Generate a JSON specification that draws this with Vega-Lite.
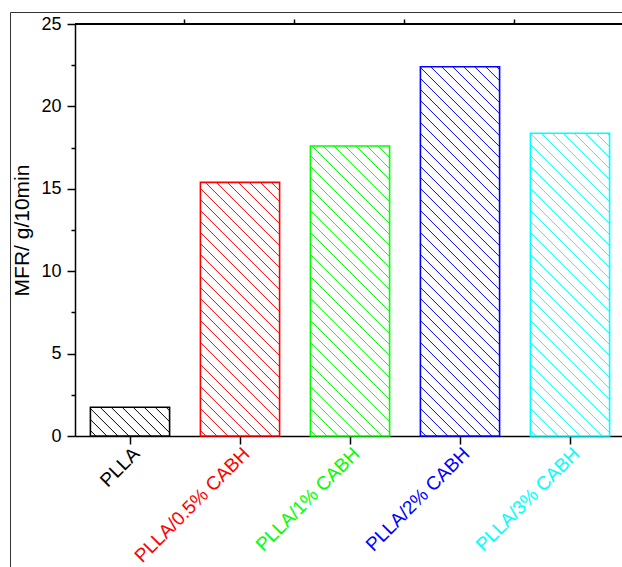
{
  "$schema": "https://vega.github.io/schema/vega-lite/v6.json",
  "width": 550,
  "height": 412,
  "autosize": {"type": "none"},
  "padding": {"left": 75, "top": 24, "right": -3, "bottom": 131},
  "background": "white",
  "config": {"view": {"stroke": null}, "font": "Liberation Sans"},
  "data": {"values": [
    {"sample": "PLLA", "mfr": 1.74},
    {"sample": "PLLA/0.5% CABH", "mfr": 15.39},
    {"sample": "PLLA/1% CABH", "mfr": 17.6},
    {"sample": "PLLA/2% CABH", "mfr": 22.41},
    {"sample": "PLLA/3% CABH", "mfr": 18.37}
  ]},
  "layer": [
    {
      "mark": {"type": "bar", "strokeWidth": 1.6},
      "encoding": {
        "x": {"field": "sample", "type": "nominal", "sort": null,
          "scale": {"paddingInner": 0.28, "paddingOuter": 0.14},
          "axis": {"title": null, "labelAngle": -45, "labelAlign": "right", "labelBaseline": "top",
            "labelFontSize": 19, "labelPadding": 0, "labelLimit": 400, "labelOverlap": false,
            "labelColor": {"expr": "datum.value === 'PLLA' ? '#000000' : datum.value === 'PLLA/0.5% CABH' ? '#ff0000' : datum.value === 'PLLA/1% CABH' ? '#00ff00' : datum.value === 'PLLA/2% CABH' ? '#0000ff' : '#00ffff'"},
            "tickSize": 8, "tickWidth": 1.5, "tickColor": "black", "domainColor": "black", "domainWidth": 1.5}},
        "y": {"field": "mfr", "type": "quantitative",
          "scale": {"domain": [0, 25], "nice": false, "zero": true},
          "axis": {"title": "MFR/ g/10min", "titleFontSize": 21, "titleFontWeight": "normal", "titleColor": "black", "titlePadding": 8,
            "values": [0, 2.5, 5, 7.5, 10, 12.5, 15, 17.5, 20, 22.5, 25],
            "labelExpr": "datum.value % 5 === 0 ? datum.label : ''",
            "tickSize": {"condition": {"test": "datum.value % 5 === 0", "value": 8}, "value": 4},
            "labelFontSize": 18, "labelColor": "black", "labelPadding": 6,
            "tickColor": "black", "tickWidth": 1.5, "domainColor": "black", "domainWidth": 1.5, "grid": false}},
        "stroke": {"field": "sample", "type": "nominal", "sort": null,
          "scale": {"domain": ["PLLA", "PLLA/0.5% CABH", "PLLA/1% CABH", "PLLA/2% CABH", "PLLA/3% CABH"],
                    "range": ["#000000", "#ff0000", "#00ff00", "#0000ff", "#00ffff"]},
          "legend": {"orient": "none", "legendX": -65, "legendY": -12, "padding": 320, "strokeColor": "#333333",
            "title": null, "labelExpr": "''", "symbolOpacity": 0, "symbolSize": 1, "symbolStrokeWidth": 0, "rowPadding": 0, "labelFontSize": 1}},
        "fill": {
          "condition": [
            {"test": "datum.sample === 'PLLA'", "value": {"gradient": "linear", "x1": 0, "y1": 1, "x2": 6.138, "y2": -1.2245, "stops": [
              {"offset":0.0082,"color":"#fff"},{"offset":0.01,"color":"#000"},{"offset":0.0118,"color":"#fff"},
              {"offset":0.0282,"color":"#fff"},{"offset":0.03,"color":"#000"},{"offset":0.0318,"color":"#fff"},
              {"offset":0.0482,"color":"#fff"},{"offset":0.05,"color":"#000"},{"offset":0.0518,"color":"#fff"},
              {"offset":0.0682,"color":"#fff"},{"offset":0.07,"color":"#000"},{"offset":0.0718,"color":"#fff"},
              {"offset":0.0882,"color":"#fff"},{"offset":0.09,"color":"#000"},{"offset":0.0918,"color":"#fff"},
              {"offset":0.1082,"color":"#fff"},{"offset":0.11,"color":"#000"},{"offset":0.1118,"color":"#fff"},
              {"offset":0.1282,"color":"#fff"},{"offset":0.13,"color":"#000"},{"offset":0.1318,"color":"#fff"},
              {"offset":0.1482,"color":"#fff"},{"offset":0.15,"color":"#000"},{"offset":0.1518,"color":"#fff"},
              {"offset":0.1682,"color":"#fff"},{"offset":0.17,"color":"#000"},{"offset":0.1718,"color":"#fff"},
              {"offset":0.1882,"color":"#fff"},{"offset":0.19,"color":"#000"},{"offset":0.1918,"color":"#fff"}
            ]}},
            {"test": "datum.sample === 'PLLA/0.5% CABH'", "value": {"gradient": "linear", "x1": 0, "y1": 1, "x2": 0.6171, "y2": -0.976, "stops": [
              {"offset":0.0082,"color":"#fff"},{"offset":0.01,"color":"#f00"},{"offset":0.0118,"color":"#fff"},
              {"offset":0.0282,"color":"#fff"},{"offset":0.03,"color":"#f00"},{"offset":0.0318,"color":"#fff"},
              {"offset":0.0482,"color":"#fff"},{"offset":0.05,"color":"#f00"},{"offset":0.0518,"color":"#fff"},
              {"offset":0.0682,"color":"#fff"},{"offset":0.07,"color":"#f00"},{"offset":0.0718,"color":"#fff"},
              {"offset":0.0882,"color":"#fff"},{"offset":0.09,"color":"#f00"},{"offset":0.0918,"color":"#fff"},
              {"offset":0.1082,"color":"#fff"},{"offset":0.11,"color":"#f00"},{"offset":0.1118,"color":"#fff"},
              {"offset":0.1282,"color":"#fff"},{"offset":0.13,"color":"#f00"},{"offset":0.1318,"color":"#fff"},
              {"offset":0.1482,"color":"#fff"},{"offset":0.15,"color":"#f00"},{"offset":0.1518,"color":"#fff"},
              {"offset":0.1682,"color":"#fff"},{"offset":0.17,"color":"#f00"},{"offset":0.1718,"color":"#fff"},
              {"offset":0.1882,"color":"#fff"},{"offset":0.19,"color":"#f00"},{"offset":0.1918,"color":"#fff"},
              {"offset":0.2082,"color":"#fff"},{"offset":0.21,"color":"#f00"},{"offset":0.2118,"color":"#fff"},
              {"offset":0.2282,"color":"#fff"},{"offset":0.23,"color":"#f00"},{"offset":0.2318,"color":"#fff"},
              {"offset":0.2482,"color":"#fff"},{"offset":0.25,"color":"#f00"},{"offset":0.2518,"color":"#fff"},
              {"offset":0.2682,"color":"#fff"},{"offset":0.27,"color":"#f00"},{"offset":0.2718,"color":"#fff"},
              {"offset":0.2882,"color":"#fff"},{"offset":0.29,"color":"#f00"},{"offset":0.2918,"color":"#fff"},
              {"offset":0.3082,"color":"#fff"},{"offset":0.31,"color":"#f00"},{"offset":0.3118,"color":"#fff"},
              {"offset":0.3282,"color":"#fff"},{"offset":0.33,"color":"#f00"},{"offset":0.3318,"color":"#fff"},
              {"offset":0.3482,"color":"#fff"},{"offset":0.35,"color":"#f00"},{"offset":0.3518,"color":"#fff"},
              {"offset":0.3682,"color":"#fff"},{"offset":0.37,"color":"#f00"},{"offset":0.3718,"color":"#fff"},
              {"offset":0.3882,"color":"#fff"},{"offset":0.39,"color":"#f00"},{"offset":0.3918,"color":"#fff"},
              {"offset":0.4082,"color":"#fff"},{"offset":0.41,"color":"#f00"},{"offset":0.4118,"color":"#fff"},
              {"offset":0.4282,"color":"#fff"},{"offset":0.43,"color":"#f00"},{"offset":0.4318,"color":"#fff"},
              {"offset":0.4482,"color":"#fff"},{"offset":0.45,"color":"#f00"},{"offset":0.4518,"color":"#fff"},
              {"offset":0.4682,"color":"#fff"},{"offset":0.47,"color":"#f00"},{"offset":0.4718,"color":"#fff"},
              {"offset":0.4882,"color":"#fff"},{"offset":0.49,"color":"#f00"},{"offset":0.4918,"color":"#fff"},
              {"offset":0.5082,"color":"#fff"},{"offset":0.51,"color":"#f00"},{"offset":0.5118,"color":"#fff"},
              {"offset":0.5282,"color":"#fff"},{"offset":0.53,"color":"#f00"},{"offset":0.5318,"color":"#fff"},
              {"offset":0.5482,"color":"#fff"},{"offset":0.55,"color":"#f00"},{"offset":0.5518,"color":"#fff"},
              {"offset":0.5682,"color":"#fff"},{"offset":0.57,"color":"#f00"},{"offset":0.5718,"color":"#fff"},
              {"offset":0.5882,"color":"#fff"},{"offset":0.59,"color":"#f00"},{"offset":0.5918,"color":"#fff"},
              {"offset":0.6082,"color":"#fff"},{"offset":0.61,"color":"#f00"},{"offset":0.6118,"color":"#fff"}
            ]}},
            {"test": "datum.sample === 'PLLA/1% CABH'", "value": {"gradient": "linear", "x1": 0, "y1": 1, "x2": 0.482, "y2": -0.7649, "stops": [
              {"offset":0.0082,"color":"#fff"},{"offset":0.01,"color":"#0f0"},{"offset":0.0118,"color":"#fff"},
              {"offset":0.0282,"color":"#fff"},{"offset":0.03,"color":"#0f0"},{"offset":0.0318,"color":"#fff"},
              {"offset":0.0482,"color":"#fff"},{"offset":0.05,"color":"#0f0"},{"offset":0.0518,"color":"#fff"},
              {"offset":0.0682,"color":"#fff"},{"offset":0.07,"color":"#0f0"},{"offset":0.0718,"color":"#fff"},
              {"offset":0.0882,"color":"#fff"},{"offset":0.09,"color":"#0f0"},{"offset":0.0918,"color":"#fff"},
              {"offset":0.1082,"color":"#fff"},{"offset":0.11,"color":"#0f0"},{"offset":0.1118,"color":"#fff"},
              {"offset":0.1282,"color":"#fff"},{"offset":0.13,"color":"#0f0"},{"offset":0.1318,"color":"#fff"},
              {"offset":0.1482,"color":"#fff"},{"offset":0.15,"color":"#0f0"},{"offset":0.1518,"color":"#fff"},
              {"offset":0.1682,"color":"#fff"},{"offset":0.17,"color":"#0f0"},{"offset":0.1718,"color":"#fff"},
              {"offset":0.1882,"color":"#fff"},{"offset":0.19,"color":"#0f0"},{"offset":0.1918,"color":"#fff"},
              {"offset":0.2082,"color":"#fff"},{"offset":0.21,"color":"#0f0"},{"offset":0.2118,"color":"#fff"},
              {"offset":0.2282,"color":"#fff"},{"offset":0.23,"color":"#0f0"},{"offset":0.2318,"color":"#fff"},
              {"offset":0.2482,"color":"#fff"},{"offset":0.25,"color":"#0f0"},{"offset":0.2518,"color":"#fff"},
              {"offset":0.2682,"color":"#fff"},{"offset":0.27,"color":"#0f0"},{"offset":0.2718,"color":"#fff"},
              {"offset":0.2882,"color":"#fff"},{"offset":0.29,"color":"#0f0"},{"offset":0.2918,"color":"#fff"},
              {"offset":0.3082,"color":"#fff"},{"offset":0.31,"color":"#0f0"},{"offset":0.3118,"color":"#fff"},
              {"offset":0.3282,"color":"#fff"},{"offset":0.33,"color":"#0f0"},{"offset":0.3318,"color":"#fff"},
              {"offset":0.3482,"color":"#fff"},{"offset":0.35,"color":"#0f0"},{"offset":0.3518,"color":"#fff"},
              {"offset":0.3682,"color":"#fff"},{"offset":0.37,"color":"#0f0"},{"offset":0.3718,"color":"#fff"},
              {"offset":0.3882,"color":"#fff"},{"offset":0.39,"color":"#0f0"},{"offset":0.3918,"color":"#fff"},
              {"offset":0.4082,"color":"#fff"},{"offset":0.41,"color":"#0f0"},{"offset":0.4118,"color":"#fff"},
              {"offset":0.4282,"color":"#fff"},{"offset":0.43,"color":"#0f0"},{"offset":0.4318,"color":"#fff"},
              {"offset":0.4482,"color":"#fff"},{"offset":0.45,"color":"#0f0"},{"offset":0.4518,"color":"#fff"},
              {"offset":0.4682,"color":"#fff"},{"offset":0.47,"color":"#0f0"},{"offset":0.4718,"color":"#fff"},
              {"offset":0.4882,"color":"#fff"},{"offset":0.49,"color":"#0f0"},{"offset":0.4918,"color":"#fff"},
              {"offset":0.5082,"color":"#fff"},{"offset":0.51,"color":"#0f0"},{"offset":0.5118,"color":"#fff"},
              {"offset":0.5282,"color":"#fff"},{"offset":0.53,"color":"#0f0"},{"offset":0.5318,"color":"#fff"},
              {"offset":0.5482,"color":"#fff"},{"offset":0.55,"color":"#0f0"},{"offset":0.5518,"color":"#fff"},
              {"offset":0.5682,"color":"#fff"},{"offset":0.57,"color":"#0f0"},{"offset":0.5718,"color":"#fff"},
              {"offset":0.5882,"color":"#fff"},{"offset":0.59,"color":"#0f0"},{"offset":0.5918,"color":"#fff"},
              {"offset":0.6082,"color":"#fff"},{"offset":0.61,"color":"#0f0"},{"offset":0.6118,"color":"#fff"},
              {"offset":0.6282,"color":"#fff"},{"offset":0.63,"color":"#0f0"},{"offset":0.6318,"color":"#fff"},
              {"offset":0.6482,"color":"#fff"},{"offset":0.65,"color":"#0f0"},{"offset":0.6518,"color":"#fff"},
              {"offset":0.6682,"color":"#fff"},{"offset":0.67,"color":"#0f0"},{"offset":0.6718,"color":"#fff"}
            ]}},
            {"test": "datum.sample === 'PLLA/2% CABH'", "value": {"gradient": "linear", "x1": 0, "y1": 1, "x2": 0.3054, "y2": -0.4238, "stops": [
              {"offset":0.0082,"color":"#fff"},{"offset":0.01,"color":"#00f"},{"offset":0.0118,"color":"#fff"},
              {"offset":0.0282,"color":"#fff"},{"offset":0.03,"color":"#00f"},{"offset":0.0318,"color":"#fff"},
              {"offset":0.0482,"color":"#fff"},{"offset":0.05,"color":"#00f"},{"offset":0.0518,"color":"#fff"},
              {"offset":0.0682,"color":"#fff"},{"offset":0.07,"color":"#00f"},{"offset":0.0718,"color":"#fff"},
              {"offset":0.0882,"color":"#fff"},{"offset":0.09,"color":"#00f"},{"offset":0.0918,"color":"#fff"},
              {"offset":0.1082,"color":"#fff"},{"offset":0.11,"color":"#00f"},{"offset":0.1118,"color":"#fff"},
              {"offset":0.1282,"color":"#fff"},{"offset":0.13,"color":"#00f"},{"offset":0.1318,"color":"#fff"},
              {"offset":0.1482,"color":"#fff"},{"offset":0.15,"color":"#00f"},{"offset":0.1518,"color":"#fff"},
              {"offset":0.1682,"color":"#fff"},{"offset":0.17,"color":"#00f"},{"offset":0.1718,"color":"#fff"},
              {"offset":0.1882,"color":"#fff"},{"offset":0.19,"color":"#00f"},{"offset":0.1918,"color":"#fff"},
              {"offset":0.2082,"color":"#fff"},{"offset":0.21,"color":"#00f"},{"offset":0.2118,"color":"#fff"},
              {"offset":0.2282,"color":"#fff"},{"offset":0.23,"color":"#00f"},{"offset":0.2318,"color":"#fff"},
              {"offset":0.2482,"color":"#fff"},{"offset":0.25,"color":"#00f"},{"offset":0.2518,"color":"#fff"},
              {"offset":0.2682,"color":"#fff"},{"offset":0.27,"color":"#00f"},{"offset":0.2718,"color":"#fff"},
              {"offset":0.2882,"color":"#fff"},{"offset":0.29,"color":"#00f"},{"offset":0.2918,"color":"#fff"},
              {"offset":0.3082,"color":"#fff"},{"offset":0.31,"color":"#00f"},{"offset":0.3118,"color":"#fff"},
              {"offset":0.3282,"color":"#fff"},{"offset":0.33,"color":"#00f"},{"offset":0.3318,"color":"#fff"},
              {"offset":0.3482,"color":"#fff"},{"offset":0.35,"color":"#00f"},{"offset":0.3518,"color":"#fff"},
              {"offset":0.3682,"color":"#fff"},{"offset":0.37,"color":"#00f"},{"offset":0.3718,"color":"#fff"},
              {"offset":0.3882,"color":"#fff"},{"offset":0.39,"color":"#00f"},{"offset":0.3918,"color":"#fff"},
              {"offset":0.4082,"color":"#fff"},{"offset":0.41,"color":"#00f"},{"offset":0.4118,"color":"#fff"},
              {"offset":0.4282,"color":"#fff"},{"offset":0.43,"color":"#00f"},{"offset":0.4318,"color":"#fff"},
              {"offset":0.4482,"color":"#fff"},{"offset":0.45,"color":"#00f"},{"offset":0.4518,"color":"#fff"},
              {"offset":0.4682,"color":"#fff"},{"offset":0.47,"color":"#00f"},{"offset":0.4718,"color":"#fff"},
              {"offset":0.4882,"color":"#fff"},{"offset":0.49,"color":"#00f"},{"offset":0.4918,"color":"#fff"},
              {"offset":0.5082,"color":"#fff"},{"offset":0.51,"color":"#00f"},{"offset":0.5118,"color":"#fff"},
              {"offset":0.5282,"color":"#fff"},{"offset":0.53,"color":"#00f"},{"offset":0.5318,"color":"#fff"},
              {"offset":0.5482,"color":"#fff"},{"offset":0.55,"color":"#00f"},{"offset":0.5518,"color":"#fff"},
              {"offset":0.5682,"color":"#fff"},{"offset":0.57,"color":"#00f"},{"offset":0.5718,"color":"#fff"},
              {"offset":0.5882,"color":"#fff"},{"offset":0.59,"color":"#00f"},{"offset":0.5918,"color":"#fff"},
              {"offset":0.6082,"color":"#fff"},{"offset":0.61,"color":"#00f"},{"offset":0.6118,"color":"#fff"},
              {"offset":0.6282,"color":"#fff"},{"offset":0.63,"color":"#00f"},{"offset":0.6318,"color":"#fff"},
              {"offset":0.6482,"color":"#fff"},{"offset":0.65,"color":"#00f"},{"offset":0.6518,"color":"#fff"},
              {"offset":0.6682,"color":"#fff"},{"offset":0.67,"color":"#00f"},{"offset":0.6718,"color":"#fff"},
              {"offset":0.6882,"color":"#fff"},{"offset":0.69,"color":"#00f"},{"offset":0.6918,"color":"#fff"},
              {"offset":0.7082,"color":"#fff"},{"offset":0.71,"color":"#00f"},{"offset":0.7118,"color":"#fff"},
              {"offset":0.7282,"color":"#fff"},{"offset":0.73,"color":"#00f"},{"offset":0.7318,"color":"#fff"},
              {"offset":0.7482,"color":"#fff"},{"offset":0.75,"color":"#00f"},{"offset":0.7518,"color":"#fff"},
              {"offset":0.7682,"color":"#fff"},{"offset":0.77,"color":"#00f"},{"offset":0.7718,"color":"#fff"},
              {"offset":0.7882,"color":"#fff"},{"offset":0.79,"color":"#00f"},{"offset":0.7918,"color":"#fff"},
              {"offset":0.8082,"color":"#fff"},{"offset":0.81,"color":"#00f"},{"offset":0.8118,"color":"#fff"}
            ]}},
            {"test": "datum.sample === 'PLLA/3% CABH'", "value": {"gradient": "linear", "x1": 0, "y1": 1, "x2": 0.4449, "y2": -0.7004, "stops": [
              {"offset":0.0082,"color":"#fff"},{"offset":0.01,"color":"#0ff"},{"offset":0.0118,"color":"#fff"},
              {"offset":0.0282,"color":"#fff"},{"offset":0.03,"color":"#0ff"},{"offset":0.0318,"color":"#fff"},
              {"offset":0.0482,"color":"#fff"},{"offset":0.05,"color":"#0ff"},{"offset":0.0518,"color":"#fff"},
              {"offset":0.0682,"color":"#fff"},{"offset":0.07,"color":"#0ff"},{"offset":0.0718,"color":"#fff"},
              {"offset":0.0882,"color":"#fff"},{"offset":0.09,"color":"#0ff"},{"offset":0.0918,"color":"#fff"},
              {"offset":0.1082,"color":"#fff"},{"offset":0.11,"color":"#0ff"},{"offset":0.1118,"color":"#fff"},
              {"offset":0.1282,"color":"#fff"},{"offset":0.13,"color":"#0ff"},{"offset":0.1318,"color":"#fff"},
              {"offset":0.1482,"color":"#fff"},{"offset":0.15,"color":"#0ff"},{"offset":0.1518,"color":"#fff"},
              {"offset":0.1682,"color":"#fff"},{"offset":0.17,"color":"#0ff"},{"offset":0.1718,"color":"#fff"},
              {"offset":0.1882,"color":"#fff"},{"offset":0.19,"color":"#0ff"},{"offset":0.1918,"color":"#fff"},
              {"offset":0.2082,"color":"#fff"},{"offset":0.21,"color":"#0ff"},{"offset":0.2118,"color":"#fff"},
              {"offset":0.2282,"color":"#fff"},{"offset":0.23,"color":"#0ff"},{"offset":0.2318,"color":"#fff"},
              {"offset":0.2482,"color":"#fff"},{"offset":0.25,"color":"#0ff"},{"offset":0.2518,"color":"#fff"},
              {"offset":0.2682,"color":"#fff"},{"offset":0.27,"color":"#0ff"},{"offset":0.2718,"color":"#fff"},
              {"offset":0.2882,"color":"#fff"},{"offset":0.29,"color":"#0ff"},{"offset":0.2918,"color":"#fff"},
              {"offset":0.3082,"color":"#fff"},{"offset":0.31,"color":"#0ff"},{"offset":0.3118,"color":"#fff"},
              {"offset":0.3282,"color":"#fff"},{"offset":0.33,"color":"#0ff"},{"offset":0.3318,"color":"#fff"},
              {"offset":0.3482,"color":"#fff"},{"offset":0.35,"color":"#0ff"},{"offset":0.3518,"color":"#fff"},
              {"offset":0.3682,"color":"#fff"},{"offset":0.37,"color":"#0ff"},{"offset":0.3718,"color":"#fff"},
              {"offset":0.3882,"color":"#fff"},{"offset":0.39,"color":"#0ff"},{"offset":0.3918,"color":"#fff"},
              {"offset":0.4082,"color":"#fff"},{"offset":0.41,"color":"#0ff"},{"offset":0.4118,"color":"#fff"},
              {"offset":0.4282,"color":"#fff"},{"offset":0.43,"color":"#0ff"},{"offset":0.4318,"color":"#fff"},
              {"offset":0.4482,"color":"#fff"},{"offset":0.45,"color":"#0ff"},{"offset":0.4518,"color":"#fff"},
              {"offset":0.4682,"color":"#fff"},{"offset":0.47,"color":"#0ff"},{"offset":0.4718,"color":"#fff"},
              {"offset":0.4882,"color":"#fff"},{"offset":0.49,"color":"#0ff"},{"offset":0.4918,"color":"#fff"},
              {"offset":0.5082,"color":"#fff"},{"offset":0.51,"color":"#0ff"},{"offset":0.5118,"color":"#fff"},
              {"offset":0.5282,"color":"#fff"},{"offset":0.53,"color":"#0ff"},{"offset":0.5318,"color":"#fff"},
              {"offset":0.5482,"color":"#fff"},{"offset":0.55,"color":"#0ff"},{"offset":0.5518,"color":"#fff"},
              {"offset":0.5682,"color":"#fff"},{"offset":0.57,"color":"#0ff"},{"offset":0.5718,"color":"#fff"},
              {"offset":0.5882,"color":"#fff"},{"offset":0.59,"color":"#0ff"},{"offset":0.5918,"color":"#fff"},
              {"offset":0.6082,"color":"#fff"},{"offset":0.61,"color":"#0ff"},{"offset":0.6118,"color":"#fff"},
              {"offset":0.6282,"color":"#fff"},{"offset":0.63,"color":"#0ff"},{"offset":0.6318,"color":"#fff"},
              {"offset":0.6482,"color":"#fff"},{"offset":0.65,"color":"#0ff"},{"offset":0.6518,"color":"#fff"},
              {"offset":0.6682,"color":"#fff"},{"offset":0.67,"color":"#0ff"},{"offset":0.6718,"color":"#fff"},
              {"offset":0.6882,"color":"#fff"},{"offset":0.69,"color":"#0ff"},{"offset":0.6918,"color":"#fff"}
            ]}}
          ],
          "value": "white"
        }
      }
    },
    {
      "mark": {"type": "bar", "opacity": 0},
      "encoding": {
        "x": {"field": "sample", "type": "nominal", "sort": null,
          "axis": {"title": null, "labels": false, "domain": false, "tickSize": 5, "tickWidth": 1.5, "tickColor": "black", "bandPosition": 1.194}},
        "y": {"field": "mfr", "type": "quantitative"}
      }
    },
    {
      "mark": {"type": "rule", "color": "black", "strokeWidth": 1.6},
      "encoding": {"y": {"datum": 25}}
    }
  ],
  "resolve": {"axis": {"x": "independent"}}
}
